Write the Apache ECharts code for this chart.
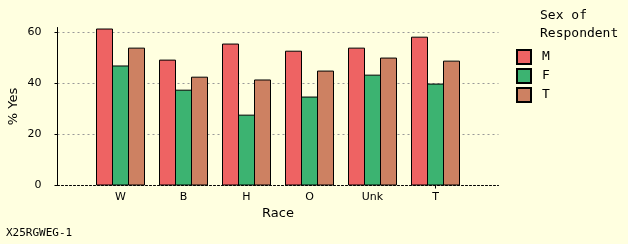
<!DOCTYPE html>
<html><head><meta charset="utf-8">
<script src="https://cdn.jsdelivr.net/npm/echarts@6/dist/echarts.min.js"></script>
<style>html,body{margin:0;padding:0;background:#FFFFE0}#c{width:628px;height:244px}</style>
</head><body><div id="c"></div>
<script>
const categories = ['W', 'B', 'H', 'O', 'Unk', 'T'];
const seriesNames = ['M', 'F', 'T'];
const valuesM = [61.6, 49.4, 55.7, 52.9, 54.1, 58.4];
const valuesF = [47.1, 37.6, 27.8, 34.9, 43.5, 40.0];
const valuesT = [54.1, 42.7, 41.6, 45.1, 50.2, 49.0];
const yTicks = [0, 20, 40, 60];
const colors = ['#EE6363', '#3CB371', '#CD8162'];

const pad = a => [null].concat(a, [null]);
const chart = echarts.init(document.getElementById('c'), null, {renderer: 'canvas'});
const sans = 'DejaVu Sans';
const mono = 'DejaVu Sans Mono';
chart.setOption({
  backgroundColor: '#FFFFE0',
  animation: false,
  grid: {left: 57.5, right: 129.5, top: 27.5, bottom: 58.5, containLabel: false, outerBoundsMode: 'none'},
  xAxis: {
    type: 'category', boundaryGap: false,
    data: [''].concat(categories, ['']),
    name: 'Race', nameLocation: 'middle', nameGap: 20,
    nameTextStyle: {fontFamily: sans, fontSize: 13, color: '#000'},
    axisLine: {lineStyle: {color: '#000', type: [2, 2], width: 1}},
    axisTick: {show: true, length: 3, lineStyle: {color: '#000'}, interval: (idx) => idx === categories.length},
    axisLabel: {fontFamily: sans, fontSize: 11, color: '#000', margin: 6, interval: 0},
    splitLine: {show: false}
  },
  yAxis: {
    type: 'value', min: 0, max: 62, interval: 20,
    name: '% Yes', nameLocation: 'middle', nameGap: 37, nameRotate: 90, nameMoveOverlap: false,
    nameTextStyle: {fontFamily: sans, fontSize: 13, color: '#000'},
    axisLine: {show: true, lineStyle: {color: '#000', width: 1}},
    axisTick: {show: true, length: 3, lineStyle: {color: '#000'}, customValues: yTicks},
    axisLabel: {fontFamily: sans, fontSize: 11, color: '#000', margin: 16, customValues: yTicks},
    splitLine: {show: true, showMinLine: false, lineStyle: {color: '#999', type: [2, 3], width: 1}}
  },
  legend: {
    orient: 'vertical', left: 511, top: 44,
    itemWidth: 14, itemHeight: 14, itemGap: 3,
    icon: 'rect',
    data: seriesNames,
    textStyle: {fontFamily: mono, fontSize: 13, color: '#000', padding: [0, 0, 0, 6]},
    selectedMode: false
  },
  graphic: [
    {type: 'text', left: 540, top: 9, style: {text: 'Sex of', font: '13px "DejaVu Sans Mono"', fill: '#000'}},
    {type: 'text', left: 540, top: 27, style: {text: 'Respondent', font: '13px "DejaVu Sans Mono"', fill: '#000'}},
    {type: 'text', left: 6, top: 228, style: {text: 'X25RGWEG-1', font: '11px "DejaVu Sans Mono"', fill: '#000'}}
  ],
  series: [valuesM, valuesF, valuesT].map((v, i) => ({
    type: 'bar', name: seriesNames[i], data: pad(v),
    barWidth: 17, barGap: '-5.882353%',
    itemStyle: {color: colors[i], borderColor: '#000', borderWidth: 1}
  }))
});
</script></body></html>
